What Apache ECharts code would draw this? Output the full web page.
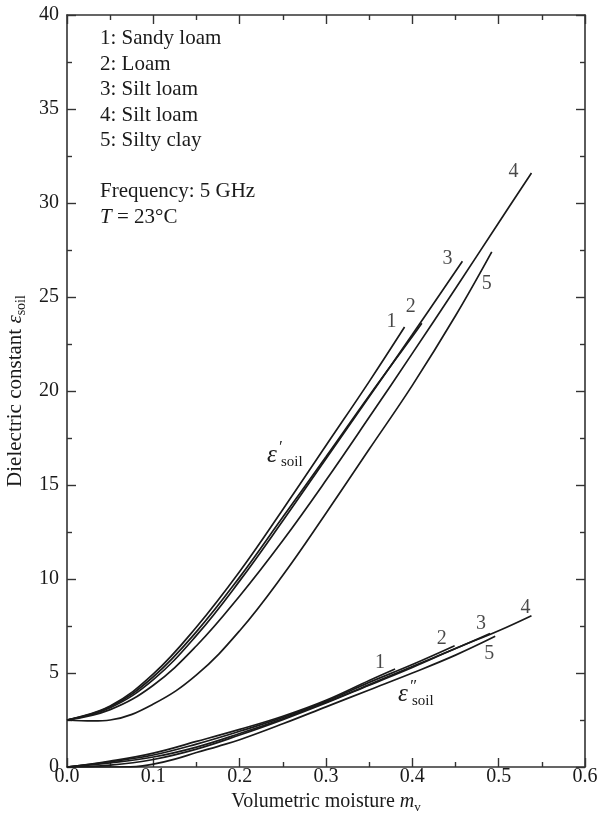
<!DOCTYPE html>
<html>
<head>
<meta charset="utf-8">
<script src="https://cdn.jsdelivr.net/npm/echarts@6/dist/echarts.min.js"></script>
<style>
  html, body { margin: 0; padding: 0; background: #ffffff; }
  #chart { width: 601px; height: 818px; }
</style>
</head>
<body>
<div id="chart"></div>
<script>
// Soil types, numbered 1..5 on the curves
const soilNames = ['Sandy loam', 'Loam', 'Silt loam', 'Silt loam', 'Silty clay'];
const curveIds = ['1', '2', '3', '4', '5'];

// Real part of the dielectric constant vs volumetric moisture
const mvReal1 = [0, 0.05, 0.1, 0.15, 0.2, 0.25, 0.3, 0.35, 0.391];
const epsReal1 = [2.5, 3.25, 4.95, 7.45, 10.4, 13.7, 17.1, 20.5, 23.4];
const mvReal2 = [0, 0.05, 0.1, 0.15, 0.2, 0.25, 0.3, 0.35, 0.4, 0.411];
const epsReal2 = [2.5, 3.2, 4.8, 7.2, 10.1, 13.3, 16.5, 19.75, 22.9, 23.6];
const mvReal3 = [0, 0.05, 0.1, 0.15, 0.2, 0.25, 0.3, 0.35, 0.4, 0.458];
const epsReal3 = [2.5, 3.15, 4.65, 7.0, 9.9, 13.1, 16.4, 19.7, 23.0, 26.9];
const mvReal4 = [0, 0.05, 0.1, 0.15, 0.2, 0.25, 0.3, 0.35, 0.4, 0.45, 0.5, 0.538];
const epsReal4 = [2.5, 3.05, 4.35, 6.45, 9.1, 12.05, 15.25, 18.6, 22.0, 25.45, 28.95, 31.6];
const mvReal5 = [0, 0.03, 0.05, 0.1, 0.15, 0.2, 0.25, 0.3, 0.35, 0.4, 0.45, 0.492];
const epsReal5 = [2.5, 2.45, 2.5, 3.35, 4.9, 7.25, 10.2, 13.5, 16.9, 20.3, 24.0, 27.4];

// Imaginary part (loss factor) vs volumetric moisture
const mvImag1 = [0, 0.05, 0.1, 0.15, 0.2, 0.25, 0.3, 0.35, 0.38];
const epsImag1 = [0, 0.32, 0.74, 1.36, 2.0, 2.7, 3.55, 4.6, 5.21];
const mvImag2 = [0, 0.05, 0.1, 0.15, 0.2, 0.25, 0.3, 0.35, 0.4, 0.449];
const epsImag2 = [0, 0.28, 0.64, 1.22, 1.9, 2.64, 3.5, 4.5, 5.45, 6.45];
const mvImag3 = [0, 0.05, 0.1, 0.15, 0.2, 0.25, 0.3, 0.35, 0.4, 0.45, 0.49];
const epsImag3 = [0, 0.22, 0.53, 1.06, 1.78, 2.57, 3.44, 4.38, 5.35, 6.3, 7.1];
const mvImag4 = [0, 0.05, 0.1, 0.15, 0.2, 0.25, 0.3, 0.35, 0.4, 0.45, 0.5, 0.538];
const epsImag4 = [0, 0.1, 0.4, 0.95, 1.7, 2.52, 3.4, 4.35, 5.3, 6.3, 7.25, 8.05];
const mvImag5 = [0, 0.05, 0.08, 0.1, 0.125, 0.15, 0.175, 0.2, 0.25, 0.3, 0.35, 0.4, 0.45, 0.496];
const epsImag5 = [0, 0, 0.02, 0.15, 0.42, 0.77, 1.1, 1.45, 2.3, 3.2, 4.1, 5.0, 5.95, 6.95];

// Axis ranges and tick steps
const xTicks = [0, 0.1, 0.2, 0.3, 0.4, 0.5, 0.6];
const yTicks = [0, 5, 10, 15, 20, 25, 30, 35, 40];

const realCurves = [[mvReal1, epsReal1], [mvReal2, epsReal2], [mvReal3, epsReal3], [mvReal4, epsReal4], [mvReal5, epsReal5]];
const imagCurves = [[mvImag1, epsImag1], [mvImag2, epsImag2], [mvImag3, epsImag3], [mvImag4, epsImag4], [mvImag5, epsImag5]];

// Pixel offsets of the curve numbers from each curve's end point
const realLabelOffsets = [[-13, -5], [-11, -17], [-15, -3], [-18, -1], [-5, 32]];
const imagLabelOffsets = [[-15, -6], [-13, -7], [-9, -10], [-6, -8], [-6, 17]];

const SERIF = '"Liberation Serif", "Times New Roman", serif';
const INK = '#1a1a1a';
const AXIS_INK = '#333333';

function pairs(xs, ys) { return xs.map((x, i) => [x, ys[i]]); }

const series = [];
function addCurves(curves, offsets, tag) {
  curves.forEach(([xs, ys], i) => {
    const data = pairs(xs, ys);
    series.push({
      name: tag + ' ' + curveIds[i] + ': ' + soilNames[i],
      type: 'line',
      data: data,
      smooth: 0.4,
      showSymbol: false,
      symbol: 'none',
      lineStyle: { color: INK, width: 1.7 },
      silent: true,
      z: 3
    });
    series.push({
      type: 'scatter',
      data: [data[data.length - 1]],
      symbolSize: 1,
      itemStyle: { color: 'rgba(0,0,0,0)' },
      label: {
        show: true,
        position: 'inside',
        offset: offsets[i],
        formatter: curveIds[i],
        fontFamily: SERIF,
        fontSize: 20,
        color: INK
      },
      silent: true,
      z: 4
    });
  });
}
addCurves(realCurves, realLabelOffsets, "ε'");
addCurves(imagCurves, imagLabelOffsets, "ε''");

const xMin = xTicks[0], xMax = xTicks[xTicks.length - 1], xStep = xTicks[1] - xTicks[0];
const yMin = yTicks[0], yMax = yTicks[yTicks.length - 1], yStep = yTicks[1] - yTicks[0];

function valueAxis(base, showLabel, extra) {
  return Object.assign({
    type: 'value',
    min: base.min, max: base.max, interval: base.step,
    axisLine: { show: true, onZero: false, lineStyle: { color: AXIS_INK, width: 1.6 } },
    axisTick: { show: true, inside: true, length: 9, lineStyle: { color: AXIS_INK, width: 1.4 } },
    minorTick: { show: true, splitNumber: 2, length: 5, lineStyle: { color: AXIS_INK, width: 1.4 } },
    splitLine: { show: false },
    minorSplitLine: { show: false },
    axisLabel: { show: showLabel }
  }, extra);
}

const xBase = { min: xMin, max: xMax, step: xStep };
const yBase = { min: yMin, max: yMax, step: yStep };

function subRich(size) {
  return {
    n: { fontFamily: SERIF, fontSize: size, color: INK },
    i: { fontFamily: SERIF, fontSize: size, fontStyle: 'italic', color: INK },
    s: { fontFamily: SERIF, fontSize: Math.round(size * 0.65), color: INK, padding: [12, 0, 0, 0] }
  };
}

const option = {
  animation: false,
  backgroundColor: '#ffffff',
  grid: { left: 67, right: 16, top: 15, bottom: 51, containLabel: false, outerBoundsMode: 'none' },
  xAxis: [
    valueAxis(xBase, true, {
      position: 'bottom',
      axisLabel: {
        show: true, margin: 0, fontFamily: SERIF, fontSize: 20, color: INK,
        formatter: v => v.toFixed(1)
      },
      name: '{n|Volumetric moisture }{i|m}{s|v}',
      nameLocation: 'middle',
      nameGap: 21,
      nameTextStyle: { rich: subRich(20) }
    }),
    valueAxis(xBase, false, { position: 'top' })
  ],
  yAxis: [
    valueAxis(yBase, true, {
      position: 'left',
      axisLabel: { show: true, margin: 8, fontFamily: SERIF, fontSize: 20, color: INK },
      name: '{n|Dielectric constant }{i|ε}{s|soil}',
      nameLocation: 'middle',
      nameGap: 38,
      nameTextStyle: { rich: subRich(21) }
    }),
    valueAxis(yBase, false, { position: 'right' })
  ],
  series: series,
  graphic: []
};

// Soil list and measurement conditions in the upper-left corner
const legendLines = soilNames.map((n, i) => curveIds[i] + ': ' + n);
const g = option.graphic;
const legendFont = '21px ' + SERIF;
legendLines.forEach((t, i) => {
  g.push({
    type: 'text', left: 100, top: 28 + i * 25.5, silent: true,
    style: { text: t, font: legendFont, fill: INK }
  });
});
g.push({
  type: 'text', left: 100, top: 28 + 6 * 25.5, silent: true,
  style: { text: 'Frequency: 5 GHz', font: legendFont, fill: INK }
});
g.push({
  type: 'text', left: 100, top: 28 + 7 * 25.5, silent: true,
  style: {
    text: '{i|T} = 23°C',
    font: legendFont, fill: INK,
    rich: { i: { fontStyle: 'italic', fontSize: 21, fontFamily: SERIF, fill: INK } }
  }
});

// Curve family tags: ε'soil and ε''soil
function epsTag(x, y, primes) {
  g.push({ type: 'text', x: x, y: y, silent: true,
    style: { text: 'ε', font: 'italic 25px ' + SERIF, fill: INK, verticalAlign: 'middle' } });
  g.push({ type: 'text', x: x + 11, y: y - 7, silent: true,
    style: { text: primes, font: 'italic 17px ' + SERIF, fill: INK, verticalAlign: 'middle' } });
  g.push({ type: 'text', x: x + 14, y: y + 7, silent: true,
    style: { text: 'soil', font: '15px ' + SERIF, fill: INK, verticalAlign: 'middle' } });
}
epsTag(267, 455, '′');
epsTag(398, 694, '″');

const chart = echarts.init(document.getElementById('chart'), null, { renderer: 'canvas' });
chart.setOption(option);
</script>
</body>
</html>
